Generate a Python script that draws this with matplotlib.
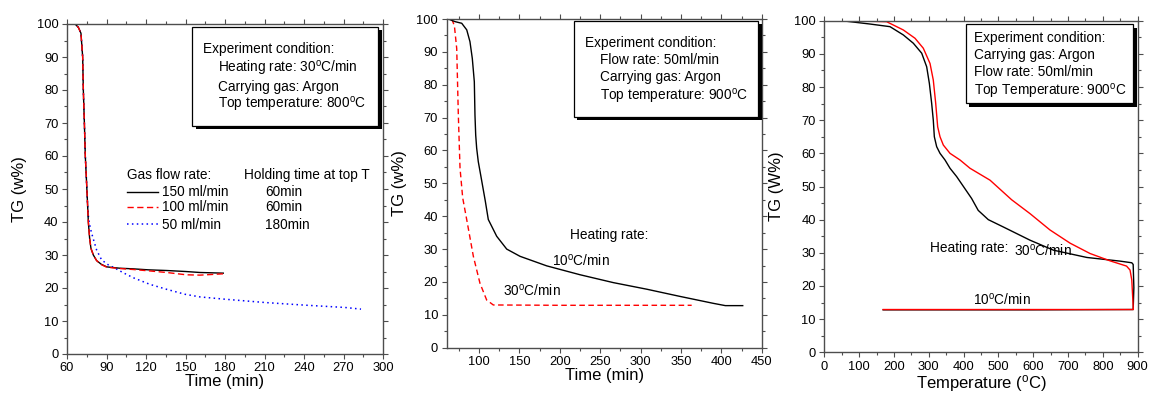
import matplotlib
matplotlib.use("Agg")
import matplotlib.pyplot as plt
from matplotlib.patches import Rectangle
from matplotlib.transforms import ScaledTranslation
from matplotlib.ticker import MultipleLocator

plt.rcParams['font.family'] = ['Liberation Sans', 'DejaVu Sans']
plt.rcParams['mathtext.fontset'] = 'custom'
plt.rcParams['mathtext.rm'] = 'Liberation Sans'
plt.rcParams['mathtext.it'] = 'Liberation Sans:italic'

# ---- Panel (a): isothermal holding at 800 C, different gas flow rates ----
t_150 = [61, 63.5, 66.1, 68.6, 70.6, 71.9, 72.4, 73.2, 73.9, 75.0, 75.6, 76.2, 77.2,
         78.2, 80.0, 82.5, 86.0, 90.2, 100, 110.4, 122, 135.7, 150, 161, 170, 178.7]
v_150 = [100, 100, 100, 99, 97.2, 90, 80, 70, 60, 50.8, 45.5, 40, 35,
         32, 30, 28.3, 27.2, 26.4, 26.0, 25.8, 25.5, 25.3, 25.0, 24.7, 24.6, 24.5]
t_100 = [61, 63.5, 66.1, 68.6, 70.6, 71.9, 72.4, 73.2, 73.9, 75.0, 75.6, 76.2, 77.2,
         78.2, 80.0, 82.5, 86.0, 90.2, 100, 110.4, 122, 135.7, 150.6, 161, 170, 178.7]
v_100 = [100, 100, 100, 99, 97.2, 90, 80, 70, 60, 50.8, 45.5, 40, 35,
         32, 30, 28.3, 27.1, 26.3, 25.9, 25.6, 25.2, 24.7, 24.0, 23.9, 24.1, 24.3]
t_50 = [61, 63.5, 66.1, 68.6, 70.6, 71.9, 72.4, 73.2, 73.9, 75.0, 75.6, 76.4, 77.8,
        79.5, 82.5, 86.3, 91.4, 96.5, 102.8, 110.4, 123, 135.7, 149.6, 161, 180,
        210.4, 240.8, 271.1, 283.3]
v_50 = [100, 100, 100, 99, 97.2, 90, 80, 70, 60, 50.8, 45.5, 41, 38,
        35.5, 31.5, 28.5, 27.0, 26.0, 24.6, 23.1, 21.1, 19.6, 18.1, 17.3, 16.6,
        15.6, 14.8, 14.1, 13.6]

flow_labels = ["150 ml/min", "100 ml/min", "50 ml/min"]
hold_labels = ["60min", "60min", "180min"]

# ---- Panel (b): weight loss vs time at two heating rates ----
t_10 = [62, 70.3, 78.6, 84.8, 88.8, 91.7, 94.2, 95.0, 95.9, 97.1, 99.1, 102.1,
        107.8, 111.5, 121.9, 134.3, 150.8, 183.8, 225, 266.3, 307.6, 348.9,
        390, 405, 426.5]
v_10 = [100, 99.2, 98.7, 96.7, 93.1, 88, 80.9, 70.8, 64.7, 60.7, 56.6, 52.5,
        44.6, 39, 33.9, 30, 27.8, 24.9, 22.2, 19.8, 17.8, 15.6,
        13.5, 12.8, 12.8]
t_30 = [66.2, 69.5, 72.4, 74.4, 76.5, 79.8, 85.5, 93, 101.2, 109.5, 117.7, 200, 363.3]
v_30 = [100, 98, 91, 70.8, 54.6, 45.6, 38, 27.8, 19.6, 14.5, 13.0, 12.9, 12.9]

# ---- Panel (c): weight loss vs temperature ----
T_black = [50, 131, 188.7, 227, 255.7, 279.7, 294, 301.7, 308.3, 313, 316, 322.7,
           332.3, 346.6, 361, 380, 423, 442, 471, 514, 591, 658, 754, 849, 883,
           887, 889, 887, 600, 169]
v_black = [100, 99, 98.2, 95.7, 93.2, 90.2, 86.1, 81.1, 75.1, 70, 65, 62,
           60, 58, 55.5, 53, 46.4, 42.8, 40, 37.8, 33.8, 30.8, 28.6, 27.5, 27,
           26.5, 19.5, 12.9, 12.8, 12.8]
T_red = [64, 179, 227, 260.5, 284.3, 303.6, 313, 319.9, 325.6, 332.3, 341.8, 361,
         389.7, 418.4, 476, 538, 591, 648, 706, 763, 820, 868, 878, 883, 887.5,
         600, 169]
v_red = [100, 99.7, 97.2, 94.7, 91.7, 87.1, 82.1, 75.1, 68, 65, 62.5, 60,
         58, 55.5, 51.9, 46, 41.8, 36.9, 32.9, 29.8, 27.6, 26, 24.8, 21.8, 12.9,
         12.9, 12.9]

DEG = r"$^{\mathrm{o}}$"
TICK_FS = 9.3
TEXT_FS = 9.8
LABEL_FS = 12
SPINE = '#4d4d4d'

fig = plt.figure(figsize=(11.5, 3.95), dpi=100)
W, H = 1150, 395


def make_axes(left, right, top, bottom):
    return fig.add_axes([left / W, 1 - bottom / H, (right - left) / W, (bottom - top) / H])


def style(ax, xlim, xmaj, xmin):
    ax.set_xlim(*xlim)
    ax.set_ylim(0, 100)
    ax.xaxis.set_major_locator(MultipleLocator(xmaj))
    ax.xaxis.set_minor_locator(MultipleLocator(xmin))
    ax.yaxis.set_major_locator(MultipleLocator(10))
    ax.yaxis.set_minor_locator(MultipleLocator(5))
    ax.tick_params(which='both', direction='out', top=True, right=True,
                   colors=SPINE, labelcolor='black', labelsize=TICK_FS, width=0.8)
    ax.tick_params(which='major', length=3.6, pad=2.5)
    ax.tick_params(which='minor', length=2.2)
    for s in ax.spines.values():
        s.set_color(SPINE)
        s.set_linewidth(1.0)


def shadow_box(ax, x0, y0, x1, y1):
    off = ScaledTranslation(3.5 / 100, -3.5 / 100, fig.dpi_scale_trans)
    ax.add_patch(Rectangle((x0, y0), x1 - x0, y1 - y0, facecolor='black',
                           edgecolor='black', lw=0, transform=ax.transData + off,
                           zorder=5, clip_on=False))
    ax.add_patch(Rectangle((x0, y0), x1 - x0, y1 - y0, facecolor='white',
                           edgecolor='black', lw=0.9, zorder=6, clip_on=False))


def txt(ax, x, y, s):
    ax.text(x, y, s, fontsize=TEXT_FS, va='baseline', ha='left', zorder=7)


# Panel (a)
ax1 = make_axes(67, 383, 24, 354)
style(ax1, (60, 300), 30, 15)
ax1.plot(t_50, v_50, color='blue', lw=1.1, ls=(0, (1, 2.2)))
ax1.plot(t_150, v_150, color='black', lw=1.0)
ax1.plot(t_100, v_100, color='red', lw=1.0, ls=(0, (4.5, 2.5)))
ax1.set_xlabel("Time (min)", fontsize=LABEL_FS, labelpad=0)
ax1.set_ylabel("TG (w%)", fontsize=LABEL_FS, labelpad=7)
shadow_box(ax1, 155.2, 69.2, 296.4, 99.2)
txt(ax1, 163.5, 91.1, "Experiment condition:")
txt(ax1, 174.9, 85.2, "Heating rate: 30" + DEG + "C/min")
txt(ax1, 174.9, 79.8, "Carrying gas: Argon")
txt(ax1, 174.9, 74.3, "Top temperature: 800" + DEG + "C")

txt(ax1, 105.3, 52.9, "Gas flow rate:")
txt(ax1, 194.7, 52.9, "Holding time at top T")
sample_styles = [dict(color='black', ls='-', lw=1.0),
                 dict(color='red', ls=(0, (4.5, 2.5)), lw=1.0),
                 dict(color='blue', ls=(0, (1, 2.2)), lw=1.1)]
row_y = [49.2, 44.6, 39.4]
for y, fl, hl, st in zip(row_y, flow_labels, hold_labels, sample_styles):
    ax1.plot([105.3, 129.3], [y, y], **st)
    txt(ax1, 132.4, y - 1.4, fl)
    txt(ax1, 210.4, y - 1.4, hl)

# Panel (b)
ax2 = make_axes(446.7, 761.7, 19, 347.7)
style(ax2, (60, 450), 50, 25)
ax2.plot(t_30, v_30, color='red', lw=1.0, ls=(0, (4, 2.5)))
ax2.plot(t_10, v_10, color='black', lw=1.0)
ax2.set_xlabel("Time (min)", fontsize=LABEL_FS, labelpad=0)
ax2.set_ylabel("TG (w%)", fontsize=LABEL_FS, labelpad=7)
shadow_box(ax2, 217.6, 70.3, 445.8, 99.4)
txt(ax2, 231.2, 91.4, "Experiment condition:")
txt(ax2, 249.8, 86.2, "Flow rate: 50ml/min")
txt(ax2, 249.8, 81.1, "Carrying gas: Argon")
txt(ax2, 249.8, 75.3, "Top temperature: 900" + DEG + "C")
txt(ax2, 212.7, 33.0, "Heating rate:")
txt(ax2, 190.0, 24.9, "10" + DEG + "C/min")
txt(ax2, 129.3, 15.7, "30" + DEG + "C/min")

# Panel (c)
ax3 = make_axes(824.3, 1137.7, 20.7, 352.3)
style(ax3, (0, 900), 100, 50)
ax3.plot(T_black, v_black, color='black', lw=1.0)
ax3.plot(T_red, v_red, color='red', lw=1.0)
ax3.set_xlabel("Temperature (" + DEG + "C)", fontsize=LABEL_FS, labelpad=0)
ax3.set_ylabel("TG (W%)", fontsize=LABEL_FS, labelpad=7)
shadow_box(ax3, 406, 75.1, 887.4, 98.9)
txt(ax3, 430, 93.7, "Experiment condition:")
txt(ax3, 430, 88.4, "Carrying gas: Argon")
txt(ax3, 430, 83.3, "Flow rate: 50ml/min")
txt(ax3, 430, 77.4, "Top Temperature: 900" + DEG + "C")
txt(ax3, 303.5, 30.3, "Heating rate:")
txt(ax3, 544.8, 29.3, "30" + DEG + "C/min")
txt(ax3, 428, 14.5, "10" + DEG + "C/min")

fig.savefig("out.png", dpi=100)
